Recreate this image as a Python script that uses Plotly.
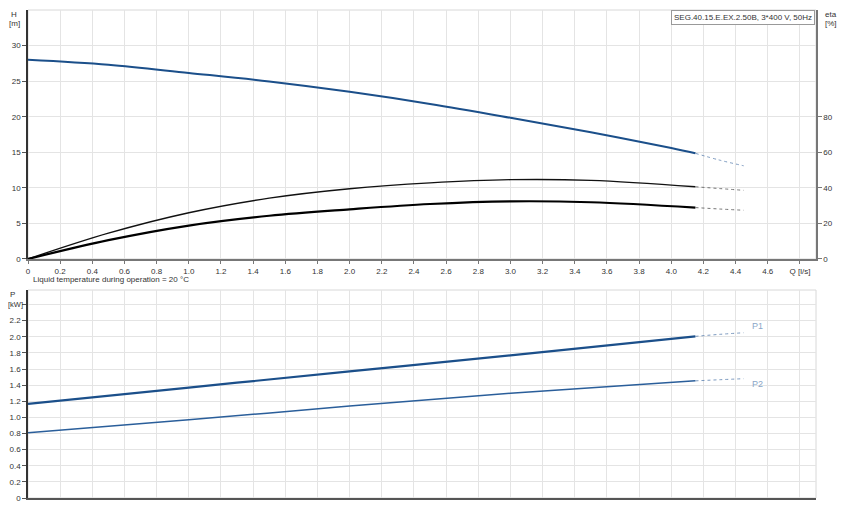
import plotly.graph_objects as go

# ---- data ----
q_h = [0, 0.5, 1.0, 1.5, 2.0, 2.5, 3.0, 3.5, 4.0, 4.15]
h_vals = [28.0, 27.3, 26.15, 24.95, 23.5, 21.8, 19.85, 17.8, 15.6, 14.85]
q_h_ext = [4.15, 4.3, 4.45]
h_ext = [14.85, 13.9, 13.1]

q_eta_a = [0, 0.5, 1.0, 1.5, 2.0, 2.5, 3.0, 3.5, 4.15]
eta_a = [0, 14.5, 26.0, 34.2, 39.5, 42.8, 44.6, 44.2, 40.6]
q_eta_a_ext = [4.15, 4.3, 4.45]
eta_a_ext = [40.6, 39.6, 38.6]

q_eta_b = [0, 0.5, 1.0, 1.5, 2.0, 2.5, 3.0, 3.5, 4.15]
eta_b = [0, 10.6, 18.8, 24.3, 27.9, 30.9, 32.4, 31.9, 28.9]
q_eta_b_ext = [4.15, 4.3, 4.45]
eta_b_ext = [28.9, 28.1, 27.4]

q_p = [0, 1.0, 2.0, 3.0, 4.15]
p1 = [1.167, 1.37, 1.57, 1.77, 2.005]
p2 = [0.81, 0.97, 1.14, 1.30, 1.453]
q_p_ext = [4.15, 4.3, 4.45]
p1_ext = [2.005, 2.03, 2.05]
p2_ext = [1.453, 1.467, 1.48]

q_ticks = [0, 0.2, 0.4, 0.6, 0.8, 1.0, 1.2, 1.4, 1.6, 1.8, 2.0, 2.2, 2.4,
           2.6, 2.8, 3.0, 3.2, 3.4, 3.6, 3.8, 4.0, 4.2, 4.4, 4.6, 4.8]
q_ticktext = ["0", "0.2", "0.4", "0.6", "0.8", "1.0", "1.2", "1.4", "1.6", "1.8",
              "2.0", "2.2", "2.4", "2.6", "2.8", "3.0", "3.2", "3.4", "3.6", "3.8",
              "4.0", "4.2", "4.4", "4.6", "Q [l/s]"]
h_ticks = [0, 5, 10, 15, 20, 25, 30]
eta_ticks = [0, 20, 40, 60, 80]
p_ticks = [0, 0.2, 0.4, 0.6, 0.8, 1.0, 1.2, 1.4, 1.6, 1.8, 2.0, 2.2, 2.4]
p_ticktext = ["0", "0.2", "0.4", "0.6", "0.8", "1.0", "1.2", "1.4", "1.6", "1.8",
              "2.0", "2.2", ""]

title_text = "SEG.40.15.E.EX.2.50B, 3*400 V, 50Hz"
temp_text = "Liquid temperature during operation = 20 °C"

BLUE = "#1b4f8a"
FONT = "Liberation Sans, Arial, sans-serif"
GRID = "#e4e4e4"

fig = go.Figure()

def add(x, y, color, width, xa, ya, dash="solid", opacity=1.0):
    fig.add_trace(go.Scatter(x=x, y=y, mode="lines", xaxis=xa, yaxis=ya,
                             line=dict(color=color, width=width, dash=dash, shape="spline",
                                       smoothing=1.0),
                             opacity=opacity, hoverinfo="skip", showlegend=False))

# top: H and eta
add(q_h, h_vals, BLUE, 2, "x", "y")
add(q_h_ext, h_ext, "#5a80b0", 1, "x", "y", dash="dot", opacity=0.8)
add(q_eta_a, eta_a, "#111111", 1.4, "x", "y2")
add(q_eta_a_ext, eta_a_ext, "#555555", 1, "x", "y2", dash="dot", opacity=0.8)
add(q_eta_b, eta_b, "#000000", 2.2, "x", "y2")
add(q_eta_b_ext, eta_b_ext, "#555555", 1, "x", "y2", dash="dot", opacity=0.8)

# bottom: P1, P2
add(q_p, p1, BLUE, 2.2, "x2", "y3")
add(q_p_ext, p1_ext, "#5a80b0", 1, "x2", "y3", dash="dot", opacity=0.8)
add(q_p, p2, "#2a5e9a", 1.5, "x2", "y3")
add(q_p_ext, p2_ext, "#5a80b0", 1, "x2", "y3", dash="dot", opacity=0.8)

tickfont = dict(family=FONT, size=8, color="#333333")
top_dom = [0.4898, 1.0]
bot_dom = [0.0, 0.4262]

# page body has an 8px default margin -> figure is 8px smaller and margins shifted
fig.update_layout(
    width=841, height=506,
    margin=dict(l=20, r=33, t=2, b=16),
    paper_bgcolor="white", plot_bgcolor="white",
    font=dict(family=FONT, size=8, color="#333333"),
    xaxis=dict(domain=[0, 1], anchor="y", range=[0, 4.9], tickvals=q_ticks, ticktext=q_ticktext,
               showgrid=True, gridcolor=GRID, gridwidth=1, zeroline=False, automargin=False,
               showline=True, linecolor="#777777", linewidth=2,
               ticks="outside", ticklen=3, tickcolor="#777777", tickfont=tickfont),
    yaxis=dict(domain=top_dom, anchor="x", range=[0, 35], tickvals=h_ticks,
               showgrid=True, gridcolor=GRID, zeroline=False, automargin=False,
               showline=True, linecolor="#333333", linewidth=1.5,
               ticks="outside", ticklen=4, tickcolor="#555555", tickfont=tickfont),
    yaxis2=dict(overlaying="y", side="right", anchor="x", range=[0, 140], tickvals=eta_ticks,
                showgrid=False, zeroline=False, automargin=False,
                showline=True, linecolor="#777777", linewidth=1.5,
                ticks="outside", ticklen=4, tickcolor="#777777", tickfont=tickfont),
    xaxis2=dict(domain=[0, 1], anchor="y3", range=[0, 4.9], tickvals=q_ticks, automargin=False,
                showticklabels=False, showgrid=True, gridcolor=GRID, zeroline=False,
                showline=True, linecolor="#555555", linewidth=1.5, ticks=""),
    yaxis3=dict(domain=bot_dom, anchor="x2", range=[0, 2.58], tickvals=p_ticks, ticktext=p_ticktext,
                showgrid=True, gridcolor=GRID, zeroline=False, automargin=False,
                showline=True, linecolor="#333333", linewidth=1.5,
                ticks="outside", ticklen=4, tickcolor="#555555", tickfont=tickfont),
)

# frames around plot areas
for xr, yr in [("x domain", "y domain"), ("x2 domain", "y3 domain")]:
    fig.add_shape(type="rect", xref=xr, yref=yr, x0=0, x1=1, y0=0, y1=1,
                  line=dict(color="#d8d8d8", width=1), layer="below")

ann = []
# axis titles
ann.append(dict(text="H", xref="paper", yref="paper", x=-0.012, y=(498 - 14) / 488,
                xanchor="right", yanchor="middle", showarrow=False, font=tickfont))
ann.append(dict(text="[m]", xref="paper", yref="paper", x=-0.008, y=(498 - 24) / 488,
                xanchor="right", yanchor="middle", showarrow=False, font=tickfont))
ann.append(dict(text="eta", xref="paper", yref="paper", x=1.009, y=(498 - 14) / 488,
                xanchor="left", yanchor="middle", showarrow=False, font=tickfont))
ann.append(dict(text="[%]", xref="paper", yref="paper", x=1.009, y=(498 - 24) / 488,
                xanchor="left", yanchor="middle", showarrow=False, font=tickfont))
ann.append(dict(text="P", xref="paper", yref="paper", x=-0.014, y=(498 - 294) / 488,
                xanchor="right", yanchor="middle", showarrow=False, font=tickfont))
ann.append(dict(text="[kW]", xref="paper", yref="paper", x=-0.004, y=(498 - 304) / 488,
                xanchor="right", yanchor="middle", showarrow=False,
                font=dict(family=FONT, size=7.5, color="#333333")))
# title box
ann.append(dict(text=title_text, xref="paper", yref="paper", x=0.9985, y=0.999,
                xanchor="right", yanchor="top", showarrow=False,
                font=dict(family=FONT, size=8, color="#333333"),
                bordercolor="#999999", borderwidth=1, borderpad=2, bgcolor="white"))
# temperature note
ann.append(dict(text=temp_text, xref="paper", yref="paper", x=0.004, y=(498 - 279) / 488,
                xanchor="left", yanchor="middle", showarrow=False,
                font=dict(family=FONT, size=8, color="#333333")))
# curve labels
ann.append(dict(text="P1", xref="x2", yref="y3", x=4.49, y=2.13, xanchor="left",
                yanchor="middle", showarrow=False, font=dict(family=FONT, size=9, color="#8aa6c8")))
ann.append(dict(text="P2", xref="x2", yref="y3", x=4.49, y=1.42, xanchor="left",
                yanchor="middle", showarrow=False, font=dict(family=FONT, size=9, color="#8aa6c8")))
fig.update_layout(annotations=ann)

fig.write_html("out.html")
